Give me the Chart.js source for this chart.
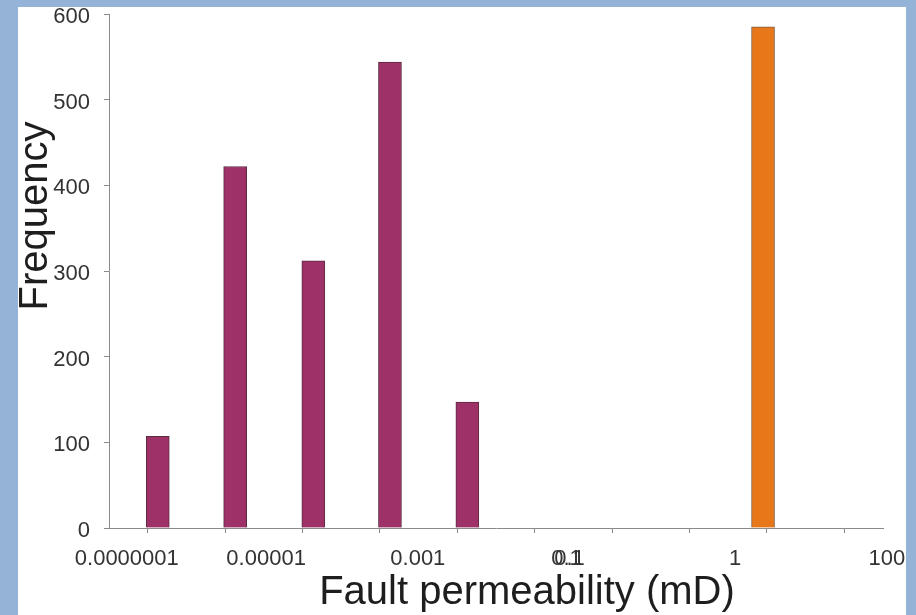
<!DOCTYPE html>
<html>
<head>
<meta charset="utf-8">
<title>Fault permeability</title>
<script src="https://cdn.jsdelivr.net/npm/chart.js@4.4.0/dist/chart.umd.min.js"></script>
<style>
  html, body { margin: 0; padding: 0; background: #95b3d7; }
  body { width: 916px; height: 615px; position: relative; overflow: hidden; }
  .panel { position: absolute; left: 18px; top: 7px; width: 888px; height: 608px; background: #fff; }
</style>
</head>
<body>
<div class="panel"><canvas id="chart-permeabilidade" width="888" height="608"></canvas></div>
<script>
// bin positions along the bottom axis (one unit per tick interval)
const binPos = [0.63, 1.63, 2.64, 3.63, 4.63];
const binFreq = [107, 422, 312, 544, 147];
const faultPos = [8.45];
const faultFreq = [585];

// axis labels and where they sit on the bottom axis
const xLabels = ['0.0000001', '0.00001', '0.001', '0.1', '0.1', '1', '100'];
const xLabelPos = [0.23, 2.03, 3.99, 5.91, 5.95, 8.09, 10.05];
const yTicks = [0, 100, 200, 300, 400, 500, 600];

const FONT = "'Liberation Sans', Arial, sans-serif";
const AXIS_COLOR = '#8a8a8a';

// titulos dos eixos
const axisTitles = {
  id: 'axisTitles',
  afterDraw(chart) {
    const { ctx, chartArea } = chart;
    ctx.save();
    ctx.fillStyle = '#1e1e1e';
    ctx.font = '40px ' + FONT;
    ctx.textAlign = 'center';
    ctx.textBaseline = 'alphabetic';
    ctx.fillText('Fault permeability (mD)', (chartArea.left + chartArea.right) / 2 + 31, 597);
    ctx.translate(29, 209);
    ctx.rotate(-Math.PI / 2);
    ctx.fillText('Frequency', 0, 0);
    ctx.restore();
  }
};

const ctx = document.getElementById('chart-permeabilidade');

new Chart(ctx, {
  type: 'bar',
  data: {
    datasets: [
      {
        label: 'Frequency',
        data: binPos.map((x, i) => ({ x, y: binFreq[i] })),
        backgroundColor: '#9e3168',
        borderColor: '#5b2a40',
        borderWidth: 1,
        barThickness: 23,
        grouped: false,
      },
      {
        label: 'Fault',
        data: faultPos.map((x, i) => ({ x, y: faultFreq[i] })),
        backgroundColor: '#e8771a',
        borderColor: '#7d5d45',
        borderWidth: 1,
        barThickness: 23,
        grouped: false,
      }
    ]
  },
  options: {
    responsive: false,
    animation: false,
    layout: { padding: { left: 0, right: 23, top: 7, bottom: 0 } },
    plugins: {
      legend: { display: false },
      tooltip: { enabled: false },
    },
    scales: {
      x: {
        type: 'linear',
        position: 'bottom',
        weight: 0,
        offset: false,
        min: 0,
        max: 10,
        grid: { drawOnChartArea: false, drawTicks: true, tickLength: 5, color: AXIS_COLOR },
        border: { color: AXIS_COLOR, width: 1 },
        ticks: { display: false, stepSize: 1 },
        afterFit: s => { s.height = 5; s.paddingLeft = 0; s.paddingRight = 0; },
      },
      x2: {
        type: 'linear',
        position: 'bottom',
        weight: 1,
        offset: false,
        min: 0,
        max: 10,
        grid: { display: false, drawTicks: false },
        border: { display: false },
        ticks: {
          autoSkip: false,
          maxRotation: 0,
          padding: 13,
          color: '#333',
          font: { family: FONT, size: 22 },
          callback: (v, i) => xLabels[i],
        },
        afterBuildTicks: s => { s.ticks = xLabelPos.map(v => ({ value: v })); },
        afterFit: s => { s.height = 82; s.paddingLeft = 0; s.paddingRight = 0; },
      },
      y: {
        min: 0,
        max: 600,
        grid: { drawOnChartArea: false, drawTicks: true, tickLength: 5, color: AXIS_COLOR },
        border: { color: AXIS_COLOR, width: 1 },
        ticks: {
          padding: 14,
          labelOffset: 3,
          color: '#333',
          font: { family: FONT, size: 22 },
        },
        afterBuildTicks: s => { s.ticks = yTicks.map(v => ({ value: v })); },
        afterFit: s => { s.width = 91; s.paddingTop = 0; s.paddingBottom = 0; },
      }
    }
  },
  plugins: [axisTitles]
});
</script>
</body>
</html>
